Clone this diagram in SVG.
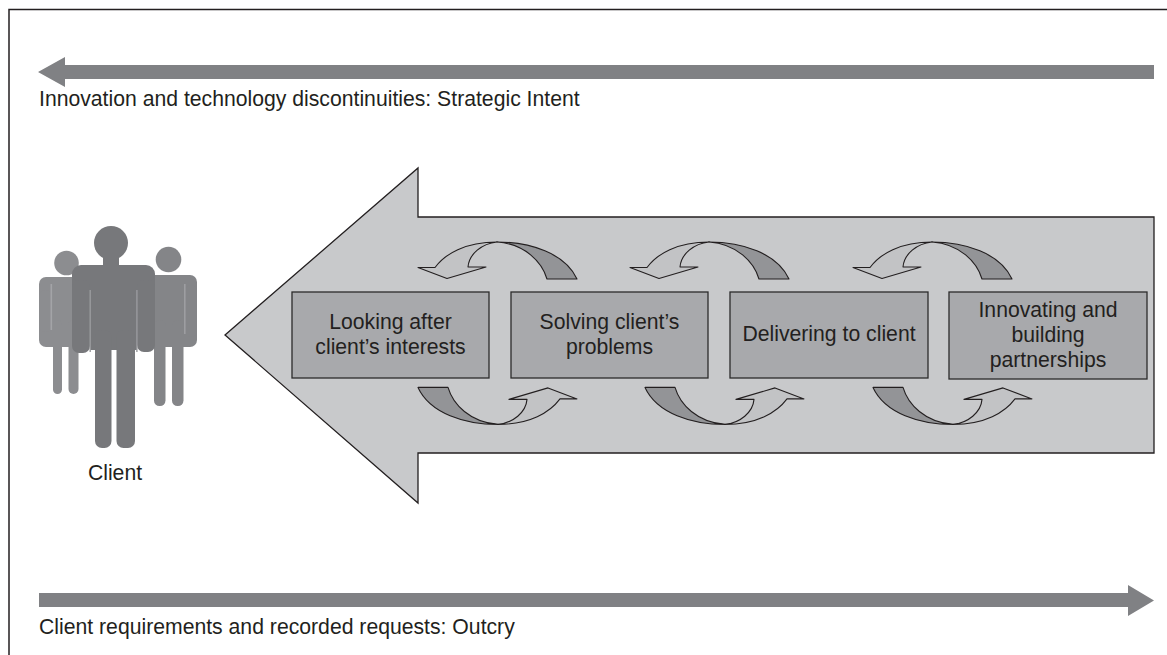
<svg xmlns="http://www.w3.org/2000/svg" xmlns:xlink="http://www.w3.org/1999/xlink" width="1167" height="655" viewBox="0 0 1167 655">
<style>
text{font-family:"Liberation Sans",Arial,Helvetica,sans-serif;font-size:21.2px;fill:#231f20}
.mid{text-anchor:middle}
.box{fill:#a8a9ac;stroke:#2b2b2b;stroke-width:1.3}
.band{fill:#808184}
.lt{fill:#c2c3c5;stroke:#231f20;stroke-width:1.1;stroke-linejoin:round}
.dk{fill:#939497;stroke:#231f20;stroke-width:1.1;stroke-linejoin:round}
</style>
<defs>
<g id="loop">
<path class="dk" d="M497,242 C530,242 565,253 577,279 L547,279 C542,262 525,244 497,242 Z"/>
<path class="lt" d="M435,267.5 C445,254 465,242 497,242 C482,243.5 469,254 468,267 L486,267 L447,278.5 L418,267.5 Z"/>
</g>
</defs>
<rect width="1167" height="655" fill="#ffffff"/>
<path d="M9,655 L9,9.5 L1167,9.5" fill="none" stroke="#231f20" stroke-width="1.5"/>

<g id="strategic-intent">
<polygon class="band" points="38,72 65,57 65,65 1154,65 1154,79 65,79 65,87"/>
<text x="39" y="106">Innovation and technology discontinuities: Strategic Intent</text>
</g>

<g id="outcry">
<polygon class="band" points="39,593 1128,593 1128,585 1154,600.5 1128,616 1128,607 39,607"/>
<text x="39" y="634">Client requirements and recorded requests: Outcry</text>
</g>

<g id="client">
<g fill="#8c8d90">
<circle cx="66.5" cy="263" r="12.3"/>
<rect x="39" y="277" width="45" height="70" rx="7"/>
<rect x="39" y="290" width="13" height="42" rx="6"/>
<rect x="53" y="320" width="9" height="74" rx="4.5"/>
<rect x="68.5" y="320" width="10" height="74" rx="5"/>
</g>
<rect x="50.5" y="284" width="1.6" height="46" fill="#a3a4a7"/>
<g fill="#848588">
<circle cx="168.5" cy="259.5" r="12.8"/>
<rect x="145" y="275" width="52" height="72" rx="7"/>
<rect x="185" y="285" width="12" height="52" rx="6"/>
<rect x="154" y="320" width="11.5" height="86" rx="5.5"/>
<rect x="172" y="320" width="11.5" height="86" rx="5.5"/>
</g>
<rect x="184" y="284" width="1.6" height="50" fill="#9d9ea1"/>
<g fill="#77787b">
<circle cx="111" cy="243" r="17"/>
<rect x="103" y="255" width="16" height="14"/>
<rect x="72" y="265" width="83" height="60" rx="9"/>
<rect x="72" y="280" width="18" height="73" rx="7"/>
<rect x="137" y="280" width="18" height="72" rx="7"/>
<rect x="90" y="290" width="47" height="60"/>
<rect x="95" y="330" width="16.5" height="118" rx="7"/>
<rect x="116.5" y="330" width="18.5" height="118" rx="7"/>
</g>
<rect x="89.5" y="290" width="1.4" height="62" fill="#9a9b9e"/>
<rect x="136.2" y="290" width="1.4" height="62" fill="#9a9b9e"/>
<text class="mid" x="115" y="480">Client</text>
</g>

<g id="service-arrow">
<polygon points="225,335 418,168 418,217 1154,217 1154,453 418,453 418,503" fill="#c8c9cb" stroke="#231f20" stroke-width="1.3" stroke-linejoin="miter"/>
</g>

<g id="node-looking-after">
<rect class="box" x="292" y="292" width="197" height="86"/>
<text class="mid" x="390.5" y="329">Looking after</text>
<text class="mid" x="390.5" y="354">client’s interests</text>
</g>
<g id="node-solving">
<rect class="box" x="511" y="292" width="197" height="86"/>
<text class="mid" x="609.5" y="329">Solving client’s</text>
<text class="mid" x="609.5" y="354">problems</text>
</g>
<g id="node-delivering">
<rect class="box" x="730" y="292" width="198" height="86"/>
<text class="mid" x="829" y="341">Delivering to client</text>
</g>
<g id="node-innovating">
<rect class="box" x="949" y="292" width="198" height="87"/>
<text class="mid" x="1048" y="317">Innovating and</text>
<text class="mid" x="1048" y="342">building</text>
<text class="mid" x="1048" y="367">partnerships</text>
</g>

<g id="connectors">
<use xlink:href="#loop" href="#loop"/>
<use xlink:href="#loop" href="#loop" transform="translate(212,0)"/>
<use xlink:href="#loop" href="#loop" transform="translate(435,0)"/>
<use xlink:href="#loop" href="#loop" transform="rotate(180 497.5 333.2)"/>
<use xlink:href="#loop" href="#loop" transform="translate(227,0) rotate(180 497.5 333.2)"/>
<use xlink:href="#loop" href="#loop" transform="translate(455,0) rotate(180 497.5 333.2)"/>
</g>
</svg>
